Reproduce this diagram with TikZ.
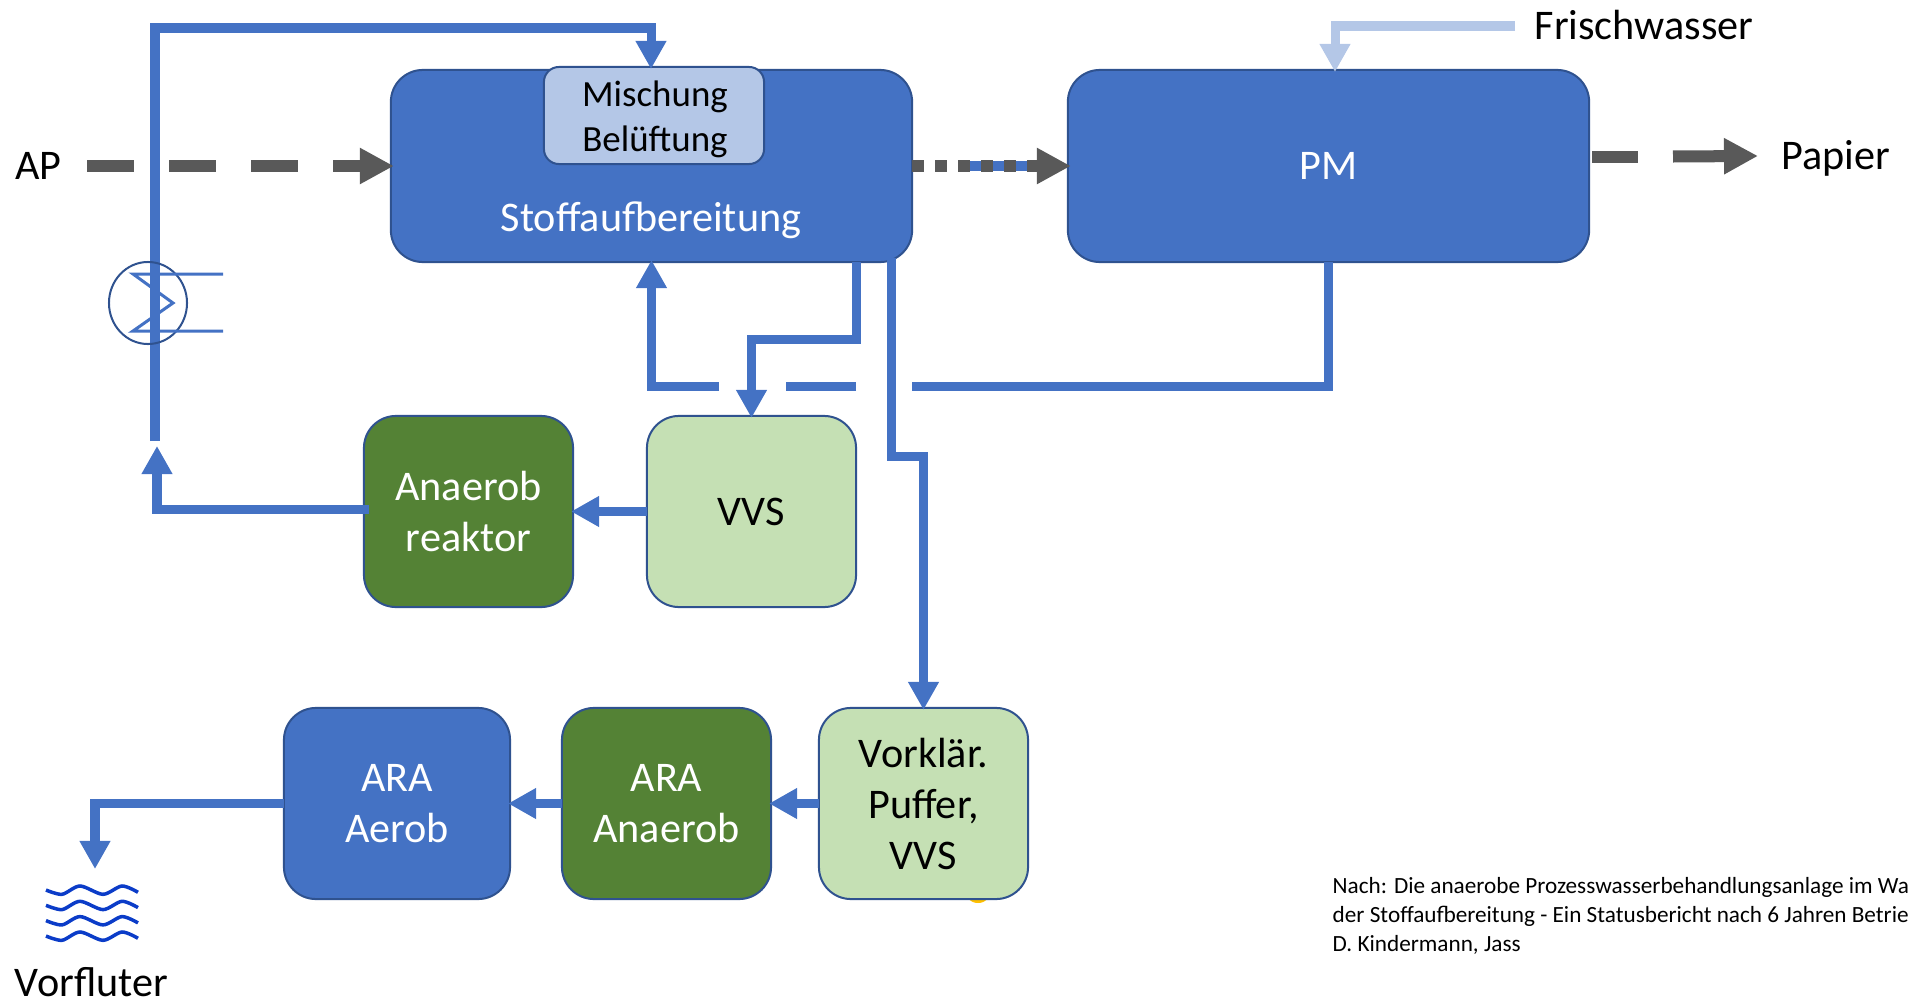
\documentclass[tikz,border=0pt]{standalone}
\usepackage{fontspec}
\setmainfont{Carlito}
\usetikzlibrary{arrows.meta,shapes.geometric}
\definecolor{boxblue}{HTML}{4472C4}
\definecolor{boxline}{HTML}{2F528F}
\definecolor{boxgreen}{HTML}{548235}
\definecolor{palegreen}{HTML}{C5E0B4}
\definecolor{paleblue}{HTML}{B4C7E7}
\definecolor{flowgrey}{HTML}{595959}
\definecolor{wavecol}{HTML}{0B3CC8}
\definecolor{spotcol}{HTML}{FFC000}
\tikzset{
    box/.style={draw=boxline,line width=0.02cm,rounded corners=0.32cm,inner sep=0pt,outer sep=0pt,align=center,
        font=\fontsize{12}{14.5}\selectfont},
    bluebox/.style={box,fill=boxblue,text=white},
    greenbox/.style={box,fill=boxgreen,text=white},
    palebox/.style={box,fill=palegreen,text=black},
    flow/.style={boxblue,line width=0.09cm,shorten >=-0.02cm,-{Triangle[length=0.28cm,width=0.29cm]}},
    pipe/.style={boxblue,line width=0.09cm},
    fresh/.style={flow,paleblue},
    stock/.style={flowgrey,line width=0.12cm},
    stockarrow/.style={stock,shorten >=-0.03cm,-{Triangle[length=0.34cm,width=0.34cm]}},
    caption/.style={font=\fontsize{12}{14.5}\selectfont,inner sep=0pt},
    source/.style={font=\fontsize{6.6}{8}\selectfont,inner sep=0pt,anchor=base west},
}
\begin{document}
\begin{tikzpicture}[x=0.01cm,y=-0.01cm]
    \useasboundingbox (0,0) rectangle (1908,1000);
    \fill[spotcol] (978,889) circle(14);
    % boxes
    \node[bluebox,minimum width=5.21cm,minimum height=1.92cm] (stoff) at (651.5,166) {};
    \node[bluebox,minimum width=5.21cm,minimum height=1.92cm] (pm) at (1328.5,166) {PM};
    \node[box,fill=paleblue,rounded corners=0.15cm,minimum width=2.20cm,minimum height=0.97cm] (mix) at (654,115.5) {};
    \node[caption,align=center,font=\fontsize{10.5}{12.8}\selectfont] (mixtext) at (655,119) {Mischung\\Belüftung};
    \node[caption,text=white] (stofftext) at (651,220) {Stoffaufbereitung};
    \node[palebox,minimum width=2.09cm,minimum height=1.91cm] (vvs) at (751.5,511.5) {VVS};
    \node[greenbox,minimum width=2.09cm,minimum height=1.91cm] (reaktor) at (468.5,511.5) {Anaerob\\reaktor};
    \node[palebox,minimum width=2.09cm,minimum height=1.91cm] (vorkl) at (923.5,803.5) {Vorklär.\\Puffer,\\VVS};
    \node[greenbox,minimum width=2.09cm,minimum height=1.91cm] (anaerob) at (666.5,803.5) {ARA\\Anaerob};
    \node[bluebox,minimum width=2.26cm,minimum height=1.91cm] (aerob) at (397,803.5) {ARA\\Aerob};
    % texts
    \node[caption] (ap) at (38.5,166) {AP};
    \node[caption] (frisch) at (1644,25) {Frischwasser};
    \node[caption] (papier) at (1836,158) {Papier};
    \node[caption] (vorfluter) at (91.5,982) {Vorfluter};
    \node[source] (quelle1) at (1332,893) {Nach: Die anaerobe Prozesswasserbehandlungsanlage im Wa};
    \node[source] (quelle2) at (1332,922) {der Stoffaufbereitung - Ein Statusbericht nach 6 Jahren Betrie};
    \node[source] (quelle3) at (1332,951) {D. Kindermann, Jass};
    % free ends
    \coordinate (apstart) at (87,166);
    \coordinate (papstart) at (1592,157);
    \coordinate (papgap) at (1638,157);
    \coordinate (papres) at (1673,156.5);
    \coordinate (paptip) at (1755,156);
    \coordinate (loopstart) at (155,441);
    \coordinate (looptop) at (155,28);
    \coordinate (mixin) at (651,67);
    \coordinate (retout) at (369,509);
    \coordinate (rettip) at (157,448);
    \coordinate (gapa) at (912,386);
    \coordinate (gapb) at (856,386);
    \coordinate (gapc) at (786,386);
    \coordinate (gapd) at (719,386);
    \coordinate (ventout) at (856,262);
    \coordinate (ventbend) at (856,339);
    \coordinate (tapout) at (891,258);
    \coordinate (tapbend) at (891,456);
    \coordinate (freshout) at (1515,26);
    \coordinate (freshtip) at (1335,70);
    \coordinate (rivertip) at (95,867);
    \coordinate (bluefrom) at (970,166);
    \coordinate (blueto) at (1040,166);
    % stock line
    \draw[stockarrow,dash pattern=on 0.47cm off 0.35cm] (apstart) -- (stoff.west);
    \draw[pipe] (bluefrom) -- (blueto);
    \draw[stockarrow,dash pattern=on 0.12cm off 0.11cm] (stoff.east) -- (pm.west);
    \draw[stock] (papstart) -- (papgap);
    \draw[stockarrow] (papres) -- (paptip);
    % water
    \draw[fresh] (freshout) -| (freshtip);
    \draw[flow] (loopstart) |- (looptop -| mixin) -- (mixin);
    \draw[flow] (retout) -| (rettip);
    \draw[pipe] (pm.south) |- (gapa);
    \draw[pipe] (gapb) -- (gapc);
    \draw[flow] (gapd) -| (stoff.south);
    \draw[flow] (ventout) -- (ventbend) -| (vvs.north);
    \draw[flow] (tapout) -- (tapbend) -| (vorkl.north);
    \draw[flow] (vvs.west) -- (reaktor.east);
    \draw[flow] (vorkl.west) -- (anaerob.east);
    \draw[flow] (anaerob.west) -- (aerob.east);
    \draw[flow] (aerob.west) -| (rivertip);
    % heat exchanger
    \node[ellipse,draw=boxline,line width=0.02cm,inner sep=0pt,outer sep=0pt,minimum width=0.78cm,minimum height=0.82cm] (hx) at (148,303) {};
    \draw[boxblue,line width=0.03cm] (223,274) -- (133,274) -- (173,303) -- (133,331) -- (223,331);
    % river
    \foreach \y in {890,905.3,920.6,936}
        \draw[wavecol,line width=0.035cm] plot[smooth] coordinates {(46,\y) (62,\y+4.3) (80,\y-4) (103,\y+4.3) (122,\y-4) (138,\y+2.3)};
\end{tikzpicture}
\end{document}
